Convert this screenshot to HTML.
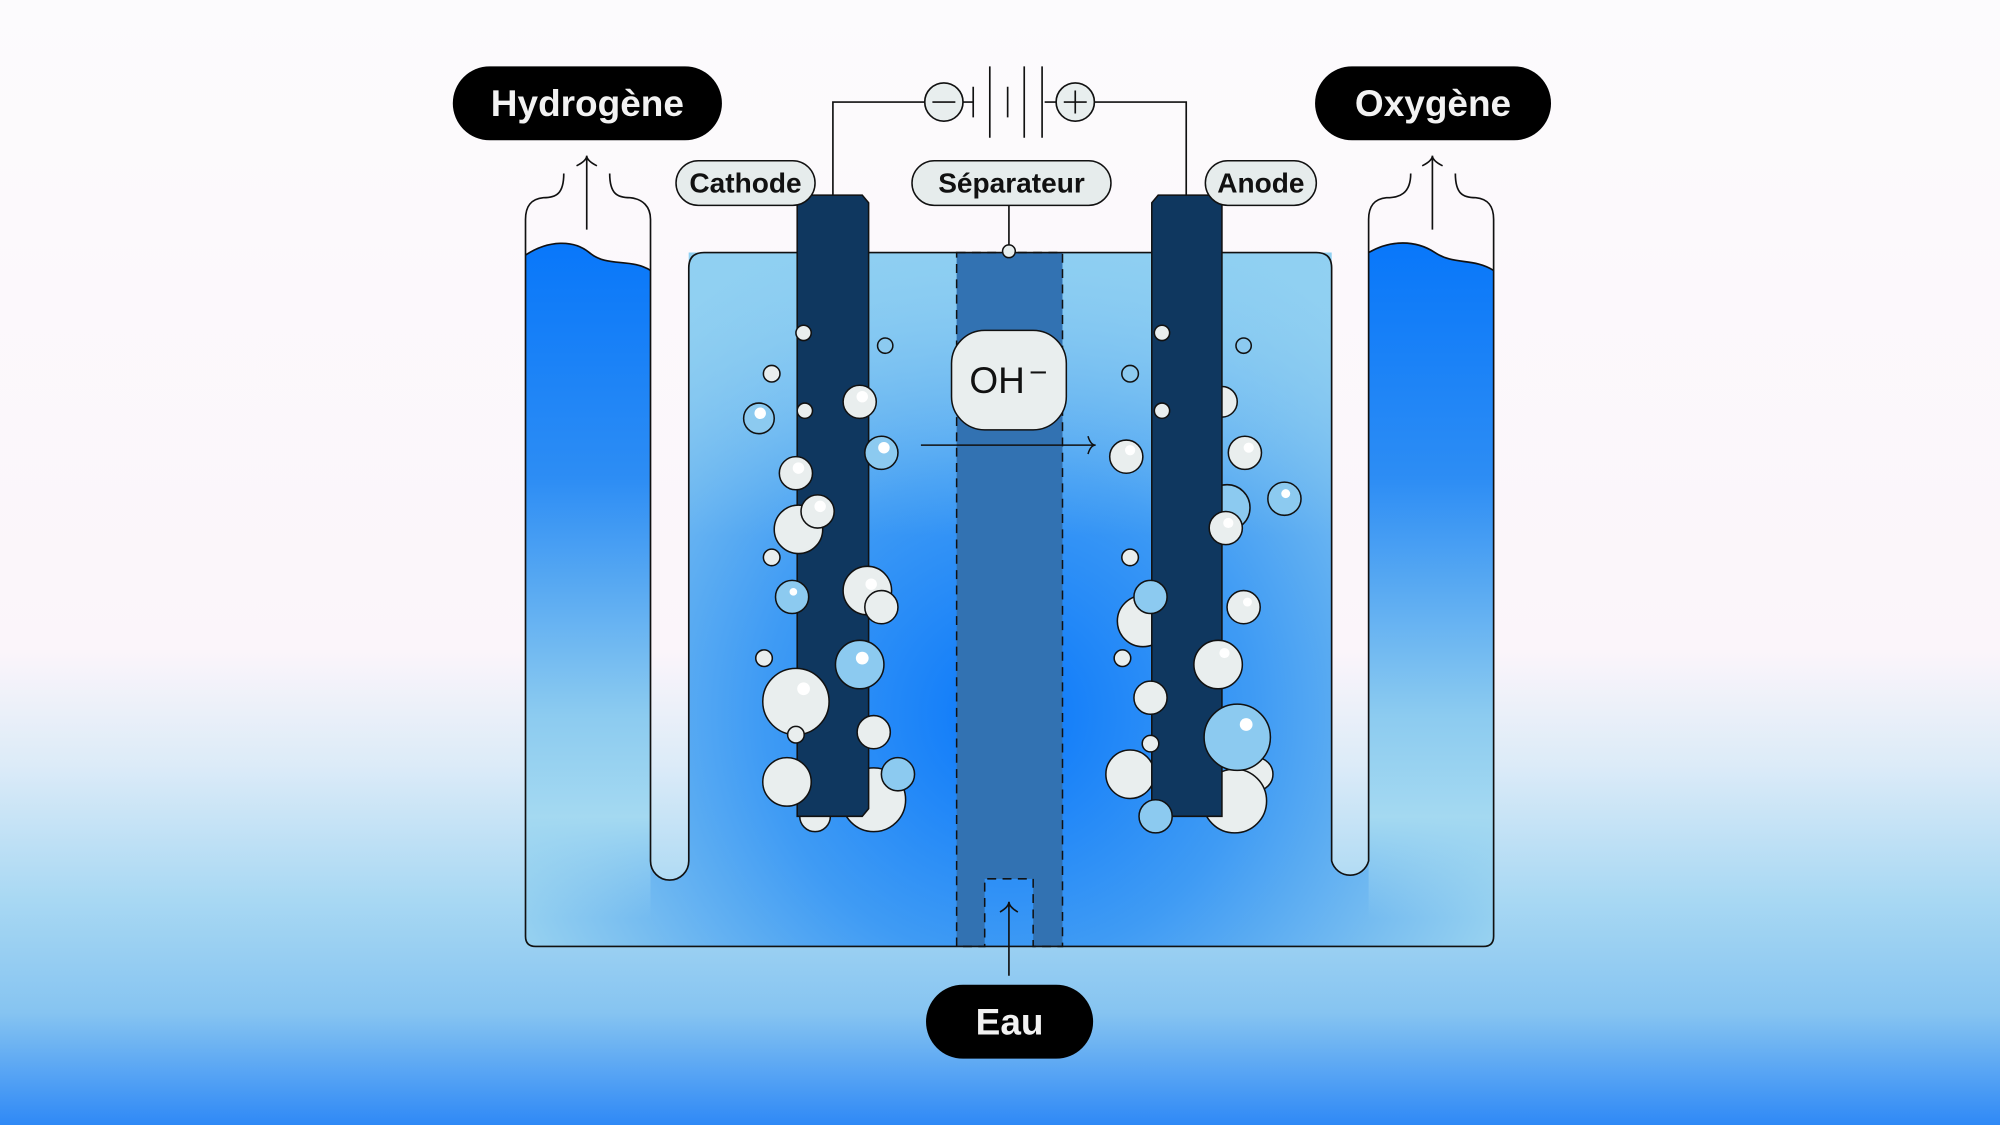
<!DOCTYPE html>
<html><head><meta charset="utf-8"><style>
html,body{margin:0;padding:0;width:2000px;height:1125px;overflow:hidden}
svg{display:block}
text{font-family:"Liberation Sans",sans-serif}
</style></head><body>
<svg width="2000" height="1125" viewBox="0 0 1568 882" xmlns="http://www.w3.org/2000/svg">
<defs>
<linearGradient id="bg" x1="0" y1="0" x2="0" y2="1">
<stop offset="0" stop-color="#fcfbfd"/>
<stop offset="0.58" stop-color="#fbf5fa"/>
<stop offset="0.68" stop-color="#dcebf8"/>
<stop offset="0.8" stop-color="#a8d8f3"/>
<stop offset="0.9" stop-color="#86c4f1"/>
<stop offset="1" stop-color="#2f89f6"/>
</linearGradient>
<radialGradient id="main" cx="790" cy="560" r="430" gradientUnits="userSpaceOnUse">
<stop offset="0" stop-color="#0a78fb"/>
<stop offset="0.45" stop-color="#3f9bf4"/>
<stop offset="0.8" stop-color="#7cc0f0"/>
<stop offset="1" stop-color="#9bd4f0"/>
</radialGradient>
<linearGradient id="tube" x1="0" y1="190" x2="0" y2="720" gradientUnits="userSpaceOnUse">
<stop offset="0" stop-color="#0877fa"/>
<stop offset="0.35" stop-color="#2d8df4"/>
<stop offset="0.7" stop-color="#8ccbf0"/>
<stop offset="0.85" stop-color="#a4d9f1"/>
<stop offset="1" stop-color="#a4d9f1" stop-opacity="0"/>
</linearGradient>
<linearGradient id="topl" x1="0" y1="198" x2="0" y2="420" gradientUnits="userSpaceOnUse">
<stop offset="0" stop-color="#8fd0f2" stop-opacity="0.9"/>
<stop offset="1" stop-color="#8fd0f2" stop-opacity="0"/>
</linearGradient>
</defs>
<rect width="1568" height="882" fill="url(#bg)"/>

<!-- liquid -->
<path d="M412,200 C430,188 450,188 462,198 C476,210 494,202 510,212 L510,675 A15,15 0 0 0 540,675 L540,198 L1044,198 L1044,675 A15,15 0 0 0 1073,675 L1073,198 C1090,188 1110,188 1125,198 C1140,208 1155,202 1171,212 L1171,742 L412,742 Z" fill="url(#main)"/>
<rect x="540" y="198" width="504" height="230" fill="url(#topl)"/>
<path d="M412,200 C430,188 450,188 462,198 C476,210 494,202 510,212 L510,720 L412,720 Z" fill="url(#tube)"/>
<path d="M1073,198 C1090,188 1110,188 1125,198 C1140,208 1155,202 1171,212 L1171,720 L1073,720 Z" fill="url(#tube)"/>
<path d="M412,200 C430,188 450,188 462,198 C476,210 494,202 510,212" fill="none" stroke="#111" stroke-width="1.3"/>
<path d="M1073,198 C1090,188 1110,188 1125,198 C1140,208 1155,202 1171,212" fill="none" stroke="#111" stroke-width="1.3"/>

<!-- separator -->
<path d="M750,198 H833 V742 H810 V689 H772 V742 H750 Z" fill="#3272b2" stroke="#111" stroke-width="1.2" stroke-dasharray="7,5"/>

<!-- vessel outlines -->
<path d="M442,136 C442,152 436,155 426,155 C416,156 412,162 412,172 L412,734 Q412,742 420,742 L1163,742 Q1171,742 1171,734 L1171,172 C1171,162 1167,156 1157,155 C1147,155 1141,152 1141,136" fill="none" stroke="#111" stroke-width="1.3"/>
<path d="M478,136 C478,152 484,155 494,155 C504,156 510,162 510,172 L510,675 A15,15 0 0 0 540,675 L540,210 Q540,198 552,198 L1032,198 Q1044,198 1044,210 L1044,675 A15,15 0 0 0 1073,675 L1073,172 C1073,162 1077,156 1087,155 C1097,155 1106,152 1106,136" fill="none" stroke="#111" stroke-width="1.3"/>

<!-- gas arrows -->
<path d="M460,180 V122 M452,130 Q460,126 460,122 Q460,126 468,130" fill="none" stroke="#111" stroke-width="1.3"/>
<path d="M1123,180 V122 M1115,130 Q1123,126 1123,122 Q1123,126 1131,130" fill="none" stroke="#111" stroke-width="1.3"/>
<path d="M791,765 V707 M784,715 Q791,711 791,707 Q791,711 798,715" fill="none" stroke="#111" stroke-width="1.3"/>

<!-- wires and battery -->
<path d="M653,153 V80 H725 M857,80 H930 V153" fill="none" stroke="#111" stroke-width="1.3"/>
<circle cx="740" cy="80" r="15" fill="#e8eeee" stroke="#111" stroke-width="1.3"/>
<path d="M731,80 H749" stroke="#111" stroke-width="1.3"/>
<circle cx="843" cy="80" r="15" fill="#e8eeee" stroke="#111" stroke-width="1.3"/>
<path d="M834,80 H852 M843,71 V89" stroke="#111" stroke-width="1.3"/>
<path d="M755,80 H763 M819,80 H828 M763,68 V92 M776,52 V108 M790,68 V92 M803,52 V108 M817,52 V108" stroke="#111" stroke-width="1.3" fill="none"/>

<path d="M791,161 V196" stroke="#111" stroke-width="1.3"/>
<circle cx="791" cy="197" r="5" fill="#e8eeee" stroke="#111" stroke-width="1.2"/>

<g stroke="#111" stroke-width="1.2">
<circle cx="958" cy="315" r="12" fill="#e9eeee"/>
<circle cx="962" cy="398" r="18" fill="#8ccaf0"/>
<circle cx="896" cy="487" r="20" fill="#e9eeee"/>
<circle cx="985" cy="607" r="13" fill="#e9eeee"/>
<circle cx="968" cy="628" r="25" fill="#e9eeee"/>
<circle cx="639" cy="640" r="12" fill="#e9eeee"/>
<circle cx="886" cy="607" r="19" fill="#e9eeee"/>
<circle cx="685" cy="627" r="25" fill="#e9eeee"/>
</g>

<path d="M625,153 H676 L681,159 V634 L676,640 H625 Z" fill="#0f375f" stroke="#111" stroke-width="1.2"/>
<path d="M908,153 H958 V640 H908 L903,634 V159 Z" fill="#0f375f" stroke="#111" stroke-width="1.2"/>

<g stroke="#111" stroke-width="1.2">
<circle cx="630" cy="261" r="6" fill="#e9eeee"/>
<circle cx="605" cy="293" r="6.5" fill="#e9eeee"/>
<circle cx="694" cy="271" r="6" fill="#8ccaf0"/>
<circle cx="595" cy="328" r="12" fill="#8ccaf0"/>
<circle cx="631" cy="322" r="6" fill="#e9eeee"/>
<circle cx="674" cy="315" r="13" fill="#e9eeee"/>
<circle cx="691" cy="355" r="13" fill="#8ccaf0"/>
<circle cx="624" cy="371" r="13" fill="#e9eeee"/>
<circle cx="626" cy="415" r="19" fill="#e9eeee"/>
<circle cx="641" cy="401" r="13" fill="#e9eeee"/>
<circle cx="605" cy="437" r="6.5" fill="#e9eeee"/>
<circle cx="621" cy="468" r="13" fill="#8ccaf0"/>
<circle cx="680" cy="463" r="19" fill="#e9eeee"/>
<circle cx="691" cy="476" r="13" fill="#e9eeee"/>
<circle cx="674" cy="521" r="19" fill="#8ccaf0"/>
<circle cx="599" cy="516" r="6.5" fill="#e9eeee"/>
<circle cx="624" cy="550" r="26" fill="#e9eeee"/>
<circle cx="624" cy="576" r="6.5" fill="#e9eeee"/>
<circle cx="685" cy="574" r="13" fill="#e9eeee"/>
<circle cx="617" cy="613" r="19" fill="#e9eeee"/>
<circle cx="704" cy="607" r="13" fill="#8ccaf0"/>
<circle cx="911" cy="261" r="6" fill="#e9eeee"/>
<circle cx="886" cy="293" r="6.5" fill="#8ccaf0"/>
<circle cx="975" cy="271" r="6" fill="#8ccaf0"/>
<circle cx="911" cy="322" r="6" fill="#e9eeee"/>
<circle cx="883" cy="358" r="13" fill="#e9eeee"/>
<circle cx="976" cy="355" r="13" fill="#e9eeee"/>
<circle cx="1007" cy="391" r="13" fill="#8ccaf0"/>
<circle cx="961" cy="414" r="13" fill="#e9eeee"/>
<circle cx="886" cy="437" r="6.5" fill="#e9eeee"/>
<circle cx="902" cy="468" r="13" fill="#8ccaf0"/>
<circle cx="975" cy="476" r="13" fill="#e9eeee"/>
<circle cx="880" cy="516" r="6.5" fill="#e9eeee"/>
<circle cx="955" cy="521" r="19" fill="#e9eeee"/>
<circle cx="902" cy="547" r="13" fill="#e9eeee"/>
<circle cx="902" cy="583" r="6.5" fill="#e9eeee"/>
<circle cx="970" cy="578" r="26" fill="#8ccaf0"/>
<circle cx="906" cy="640" r="13" fill="#8ccaf0"/>
</g>
<g fill="#fff">
<circle cx="596" cy="324" r="4.5"/><circle cx="676" cy="311" r="4.5"/><circle cx="693" cy="351" r="4.5"/>
<circle cx="626" cy="367" r="4.5"/><circle cx="643" cy="397" r="4.5"/><circle cx="622" cy="464" r="3"/>
<circle cx="683" cy="458" r="4.5"/><circle cx="676" cy="516" r="5"/><circle cx="630" cy="540" r="5"/>
<circle cx="977" cy="568" r="5"/><circle cx="960" cy="512" r="4"/><circle cx="963" cy="410" r="4"/>
<circle cx="1008" cy="387" r="3.5"/><circle cx="979" cy="351" r="4"/><circle cx="886" cy="353" r="4"/>
<circle cx="978" cy="472" r="3.5"/>
</g>

<path d="M722,349 H859 M853,342 Q855,349 859,349 Q855,349 853,356" fill="none" stroke="#111" stroke-width="1.2"/>
<rect x="746" y="259" width="90" height="78" rx="26" fill="#e9eeee" stroke="#111" stroke-width="1.2"/>
<text x="760" y="308" font-size="29" fill="#111">OH</text>
<path d="M808,292 H820" stroke="#111" stroke-width="1.6"/>

<rect x="530" y="126" width="109" height="35" rx="17.5" fill="#e6ecec" stroke="#111" stroke-width="1.2"/>
<text x="584.5" y="151" font-size="22" font-weight="bold" text-anchor="middle" fill="#111">Cathode</text>
<rect x="715" y="126" width="156" height="35" rx="17.5" fill="#e6ecec" stroke="#111" stroke-width="1.2"/>
<text x="793" y="151" font-size="22" font-weight="bold" text-anchor="middle" fill="#111">Séparateur</text>
<rect x="945" y="126" width="87" height="35" rx="17.5" fill="#e6ecec" stroke="#111" stroke-width="1.2"/>
<text x="988.5" y="151" font-size="22" font-weight="bold" text-anchor="middle" fill="#111">Anode</text>

<rect x="355" y="52" width="211" height="58" rx="29" fill="#000"/>
<text x="460.5" y="91" font-size="29" font-weight="bold" text-anchor="middle" fill="#f2f2f2">Hydrogène</text>
<rect x="1031" y="52" width="185" height="58" rx="29" fill="#000"/>
<text x="1123.5" y="91" font-size="29" font-weight="bold" text-anchor="middle" fill="#f2f2f2">Oxygène</text>
<rect x="726" y="772" width="131" height="58" rx="29" fill="#000"/>
<text x="791.5" y="811" font-size="29" font-weight="bold" text-anchor="middle" fill="#f2f2f2">Eau</text>
</svg>
</body></html>
